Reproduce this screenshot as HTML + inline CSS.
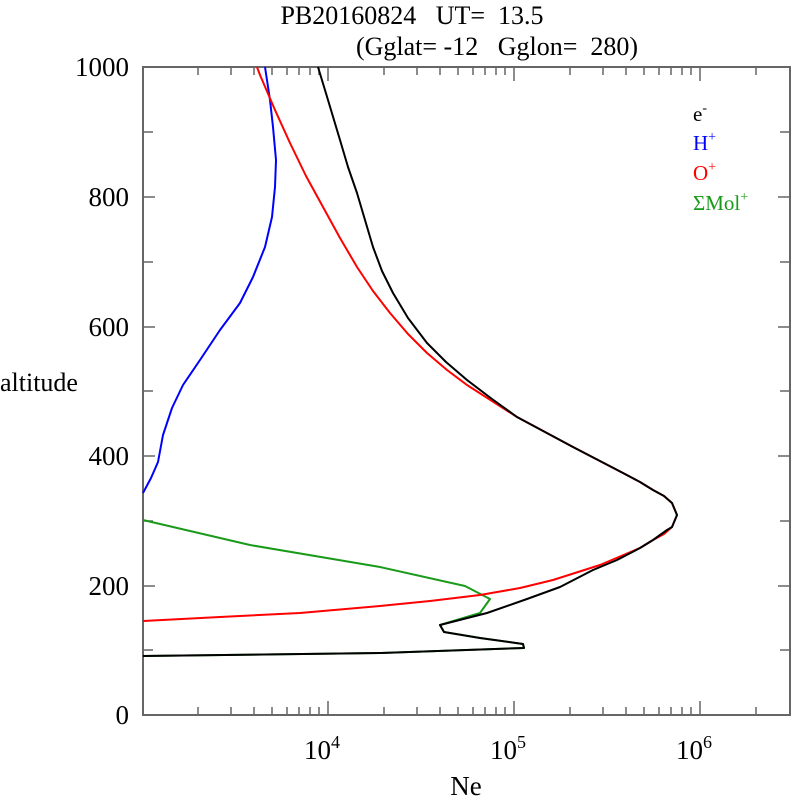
<!DOCTYPE html><html><head><style>body{margin:0;background:#fff}</style></head><body>
<svg width="792" height="796" xmlns="http://www.w3.org/2000/svg" font-family="Liberation Serif, serif">
<rect x="0" y="0" width="792" height="796" fill="#fff"/>
<text x="412" y="24" font-size="26" text-anchor="middle" xml:space="preserve">PB20160824   UT=  13.5</text>
<text x="497" y="55" font-size="26" text-anchor="middle" xml:space="preserve">(Gglat= -12   Gglon=  280)</text>
<rect x="143" y="67" width="647" height="648" fill="none" stroke="#666" stroke-width="2"/>
<g stroke="#666" stroke-width="1.5">
<path d="M143,132h10M143,197h12M143,262h10M143,327h12M143,391h10M143,456h12M143,521h10M143,586h12M143,650h10"/>
<path d="M790,132h-10M790,197h-12M790,262h-10M790,327h-12M790,391h-10M790,456h-12M790,521h-10M790,586h-12M790,650h-10"/>
<path d="M198,715v-8M231,715v-8M254,715v-8M272,715v-8M287,715v-8M299,715v-8M310,715v-8M319,715v-8M328,715v-14M384,715v-8M417,715v-8M440,715v-8M458,715v-8M473,715v-8M485,715v-8M496,715v-8M505,715v-8M514,715v-14M570,715v-8M603,715v-8M626,715v-8M644,715v-8M659,715v-8M671,715v-8M682,715v-8M691,715v-8M700,715v-14M756,715v-8"/>
<path d="M198,67v8M231,67v8M254,67v8M272,67v8M287,67v8M299,67v8M310,67v8M319,67v8M328,67v14M384,67v8M417,67v8M440,67v8M458,67v8M473,67v8M485,67v8M496,67v8M505,67v8M514,67v14M570,67v8M603,67v8M626,67v8M644,67v8M659,67v8M671,67v8M682,67v8M691,67v8M700,67v14M756,67v8"/>
</g>
<g font-size="27" text-anchor="end">
<text x="129" y="76">1000</text><text x="129" y="206">800</text><text x="129" y="336">600</text>
<text x="129" y="465">400</text><text x="129" y="595">200</text><text x="129" y="724">0</text>
</g>
<text x="0" y="391" font-size="26">altitude</text>
<g font-size="27" text-anchor="middle">
<text x="322" y="759">10<tspan font-size="18" dy="-11">4</tspan></text>
<text x="508" y="759">10<tspan font-size="18" dy="-11">5</tspan></text>
<text x="694" y="759">10<tspan font-size="18" dy="-11">6</tspan></text>
<text x="466" y="795">Ne</text>
</g>
<g fill="none" stroke-width="2" stroke-linejoin="round">
<polyline stroke="#1a9a1a" points="143,520 250,545 380,567 465,586 490,599 480,613 440,625 444,632 480,638 523,644 524,648 380,653 143,656"/>
<polyline stroke="#00f" points="265,67 270,100 273,127 276,160 275,187 272,217 265,247 253,277 240,303 220,330 200,360 183,385 172,408 163,435 158,462 151,478 143,493"/>
<polyline stroke="#f00" points="257,67 260,75 275,110 290,143 306,176 323,207 340,238 357,267 373,291 390,313 408,334 427,353 447,370 467,385 492,401 517,417 545,432 573,447 598,460 623,473 640,482 653,490 664,496 672,503 677,515 672,527 664,534 653,540 640,548 600,565 553,580 520,588 480,595 430,601 380,606 300,613 220,617 143,621"/>
<polyline stroke="#000" points="318,67 328,100 340,140 348,167 357,193 365,220 373,247 382,271 393,293 408,318 427,343 446,362 467,380 492,399 517,417 545,432 573,447 598,460 623,473 640,482 653,490 664,496 672,503 677,515 672,527 667,530 653,540 640,548 617,560 593,570 560,587 527,599 487,613 440,625 444,632 480,638 523,644 524,648 380,653 143,656"/>
</g>
<g font-size="21">
<text x="693" y="121">e<tspan font-size="14" dy="-9">-</tspan></text>
<text x="693" y="150" fill="#00f">H<tspan font-size="14" dy="-9">+</tspan></text>
<text x="693" y="180" fill="#f00">O<tspan font-size="14" dy="-9">+</tspan></text>
<text x="693" y="210" fill="#1a9a1a">ΣMol<tspan font-size="14" dy="-9">+</tspan></text>
</g>
</svg></body></html>
